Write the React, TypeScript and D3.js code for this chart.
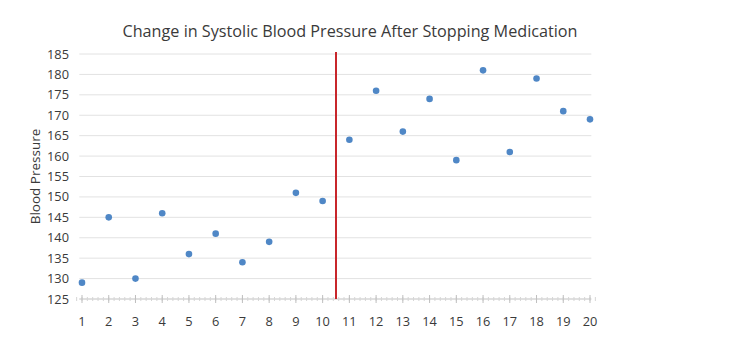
import React from "react";
import * as d3 from "d3";

const width = 730;
const height = 353;
const margin = { top: 54, right: 140, bottom: 54, left: 80 };

const title = "Change in Systolic Blood Pressure After Stopping Medication";
const yLabel = "Blood Pressure";
const days = [1, 2, 3, 4, 5, 6, 7, 8, 9, 10, 11, 12, 13, 14, 15, 16, 17, 18, 19, 20];
const pressure = [129, 145, 130, 146, 136, 141, 134, 139, 151, 149, 164, 176, 166, 174, 159, 181, 161, 179, 171, 169];
const yTicks = [125, 130, 135, 140, 145, 150, 155, 160, 165, 170, 175, 180, 185];
const stopAt = 10.5;

const font = "'Open Sans', 'Noto Sans', sans-serif";

export default function App() {
  // x is numeric (day), y is pressure
  const x = d3.scaleLinear().domain([1, 20]).range([margin.left + 2, width - margin.right]);
  const y = d3.scaleLinear().domain([125, 185]).range([height - margin.bottom, margin.top]);
  const minor = d3.range(0.8, 20.21, 0.2);

  return (
    <svg width={width} height={height} style={{ position: "absolute", left: 0, top: 0, background: "#fff" }}>
      <text x={350} y={37} textAnchor="middle" fontFamily={font} fontSize={16.2} fill="#3a3a3a">
        {title}
      </text>

      {/* grid */}
      {yTicks.map((t) => (
        <line key={t} x1={x(0.9)} x2={x(20.05)} y1={y(t)} y2={y(t)} stroke="#e2e2e2" strokeWidth={1} />
      ))}
      {yTicks.map((t) => (
        <text key={"l" + t} x={69} y={y(t) + 4.5} textAnchor="end" fontFamily={font} fontSize={12.8} fill="#3a3a3a">
          {t}
        </text>
      ))}

      {/* bottom axis with ticks */}
      <line x1={x(0.9)} x2={x(20.05)} y1={y(125)} y2={y(125)} stroke="#cfcfcf" />
      {minor.map((m, i) => (
        <line key={"m" + i} x1={x(m)} x2={x(m)} y1={y(125) - 2} y2={y(125) + 2} stroke="#d6d6d6" />
      ))}
      {days.map((d) => (
        <line key={"t" + d} x1={x(d)} x2={x(d)} y1={y(125) - 4} y2={y(125) + 4} stroke="#bfbfbf" />
      ))}
      {days.map((d) => (
        <text key={"x" + d} x={x(d)} y={326} textAnchor="middle" fontFamily={font} fontSize={12.8} fill="#3a3a3a">
          {d}
        </text>
      ))}

      <text
        transform={`translate(40,${(y(125) + y(185)) / 2}) rotate(-90)`}
        textAnchor="middle"
        fontFamily={font}
        fontSize={13.5}
        fill="#3a3a3a"
      >
        {yLabel}
      </text>

      {/* medication stop line */}
      <line x1={x(stopAt)} x2={x(stopAt)} y1={y(185) - 2} y2={y(125)} stroke="#c8262b" strokeWidth={2} />

      {pressure.map((p, i) => (
        <circle key={"p" + i} cx={x(days[i])} cy={y(p)} r={3.3} fill="#4f87c6" />
      ))}
    </svg>
  );
}
